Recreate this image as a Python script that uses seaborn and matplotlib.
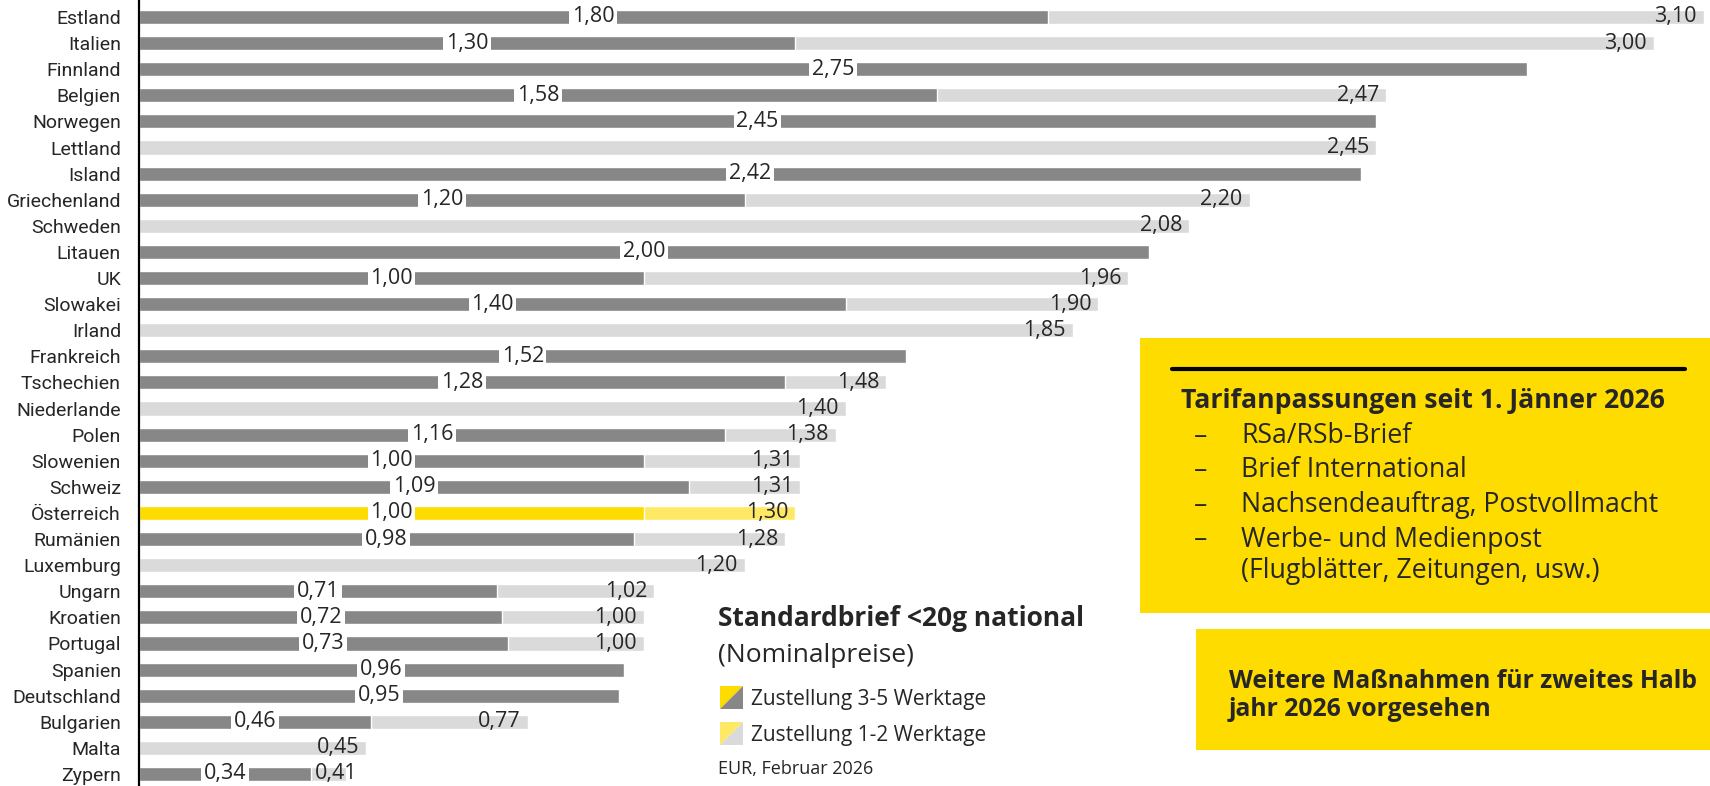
import numpy as np
import pandas as pd
import seaborn as sns
from matplotlib import pyplot as plt
from matplotlib.patches import Polygon, Rectangle
from matplotlib.lines import Line2D

W, H = 1710, 786

countries = ['Estland', 'Italien', 'Finnland', 'Belgien', 'Norwegen', 'Lettland', 'Island',
             'Griechenland', 'Schweden', 'Litauen', 'UK', 'Slowakei', 'Irland', 'Frankreich',
             'Tschechien', 'Niederlande', 'Polen', 'Slowenien', 'Schweiz', 'Österreich',
             'Rumänien', 'Luxemburg', 'Ungarn', 'Kroatien', 'Portugal', 'Spanien',
             'Deutschland', 'Bulgarien', 'Malta', 'Zypern']
# Zustellung 3-5 Werktage
price_3_5 = [1.80, 1.30, 2.75, 1.58, 2.45, None, 2.42, 1.20, None, 2.00, 1.00, 1.40, None, 1.52,
             1.28, None, 1.16, 1.00, 1.09, 1.00, 0.98, None, 0.71, 0.72, 0.73, 0.96, 0.95, 0.46,
             None, 0.34]
# Zustellung 1-2 Werktage
price_1_2 = [3.10, 3.00, None, 2.47, None, 2.45, None, 2.20, 2.08, None, 1.96, 1.90, 1.85, None,
             1.48, 1.40, 1.38, 1.31, 1.31, 1.30, 1.28, 1.20, 1.02, 1.00, 1.00, None, None, 0.77,
             0.45, 0.41]
highlight = 'Österreich'

DARK, LIGHT = '#878787', '#dadada'
YELLOW, YELLOW_LIGHT = '#ffdc00', '#ffe964'
TXT = ['Open Sans', 'DejaVu Sans']


def fmt(v):
    return f'{v:.2f}'.replace('.', ',')


def fig_xy(x, y):
    return x / W, 1 - y / H


df = pd.DataFrame({'land': countries, 'slow': price_3_5, 'fast': price_1_2})

sns.set_style('white')
plt.rcParams['font.family'] = ['Roboto', 'DejaVu Sans']

fig = plt.figure(figsize=(W / 100, H / 100), dpi=100)
ax = fig.add_axes([139 / W, 0, (1704 - 139) / W, 1])

pal_light = {c: (YELLOW_LIGHT if c == highlight else LIGHT) for c in countries}
pal_dark = {c: (YELLOW if c == highlight else DARK) for c in countries}

fast_df = df.dropna(subset=['fast'])
slow_df = df.dropna(subset=['slow'])
sns.barplot(data=fast_df, x='fast', y='land', hue='land', order=countries, palette=pal_light,
            width=0.54, legend=False, ax=ax, saturation=1)
sns.barplot(data=slow_df, x='slow', y='land', hue='land', order=countries, palette=pal_dark,
            width=0.54, legend=False, ax=ax, saturation=1)

ax.set_xlim(0, 3.10)
ax.set_ylim(29.46, -0.651)
ax.set_xlabel('')
ax.set_ylabel('')
ax.set_xticks([])
for side in ['top', 'right', 'bottom']:
    ax.spines[side].set_visible(False)
ax.spines['left'].set_color('black')
ax.spines['left'].set_linewidth(1.6)
ax.tick_params(axis='y', length=0, pad=13, labelsize=14)

# value labels: 3-5 days centred on its bar, 1-2 days at the end of its bar
px_per_eur = (1704 - 139) / 3.10
for i, row in df.iterrows():
    if pd.notna(row['slow']):
        ax.text(row['slow'] / 2, i, fmt(row['slow']), ha='center', va='center', fontsize=15.5,
                family=TXT, bbox=dict(boxstyle='square,pad=0.12', fc='white', ec='none'))
    if pd.notna(row['fast']):
        room = (row['fast'] - (row['slow'] if pd.notna(row['slow']) else 0)) * px_per_eur
        if room >= 60:
            ax.annotate(fmt(row['fast']), (row['fast'], i), xytext=(-5, 0),
                        textcoords='offset points', ha='right', va='center', fontsize=15.5,
                        family=TXT)
        else:
            ax.annotate(fmt(row['fast']), (row['slow'], i), xytext=(3, 0),
                        textcoords='offset points', ha='left', va='center', fontsize=15.5,
                        family=TXT)

# legend block
fig.text(*fig_xy(718, 619), 'Standardbrief <20g national', fontsize=19, fontweight='bold',
         va='center', family=TXT)
fig.text(*fig_xy(718, 656), '(Nominalpreise)', fontsize=19, va='center', family=TXT)
for y, c1, c2, label in [(698, YELLOW, DARK, 'Zustellung 3-5 Werktage'),
                         (734, YELLOW_LIGHT, LIGHT, 'Zustellung 1-2 Werktage')]:
    x0, x1, y0, y1 = 720, 743, y - 12, y + 11
    fig.add_artist(Polygon([fig_xy(x0, y0), fig_xy(x1, y0), fig_xy(x0, y1)], closed=True,
                           transform=fig.transFigure, fc=c1, ec='none'))
    fig.add_artist(Polygon([fig_xy(x1, y0), fig_xy(x1, y1), fig_xy(x0, y1)], closed=True,
                           transform=fig.transFigure, fc=c2, ec='none'))
    fig.text(*fig_xy(751, y + 1), label, fontsize=15, va='center', family=TXT)
fig.text(*fig_xy(718, 769), 'EUR, Februar 2026', fontsize=13, va='center', family=TXT)

# info boxes
bx, by = fig_xy(1140, 613)
fig.add_artist(Rectangle((bx, by), (W - 1140) / W, (613 - 338) / H, transform=fig.transFigure,
                         fc=YELLOW, ec='none'))
fig.add_artist(Line2D([1172 / W, 1685 / W], [1 - 369 / H] * 2, transform=fig.transFigure,
                      color='black', lw=3))
fig.text(*fig_xy(1181, 401), 'Tarifanpassungen seit 1. Jänner 2026', fontsize=19.2,
         fontweight='bold', va='center', family=TXT)
bullets = ['RSa/RSb-Brief', 'Brief International', 'Nachsendeauftrag, Postvollmacht',
           'Werbe- und Medienpost']
for k, b in enumerate(bullets):
    y = 436 + k * 34.5
    fig.text(*fig_xy(1194, y), '–', fontsize=19.2, va='center', family=TXT)
    fig.text(*fig_xy(1241, y), b, fontsize=19.2, va='center', family=TXT)
fig.text(*fig_xy(1241, 571), '(Flugblätter, Zeitungen, usw.)', fontsize=19.2, va='center',
         family=TXT)

bx, by = fig_xy(1196, 750)
fig.add_artist(Rectangle((bx, by), (W - 1196) / W, (750 - 629) / H, transform=fig.transFigure,
                         fc=YELLOW, ec='none'))
fig.text(*fig_xy(1229, 681), 'Weitere Maßnahmen für zweites Halb', fontsize=17.8,
         fontweight='bold', va='center', family=TXT)
fig.text(*fig_xy(1229, 710), 'jahr 2026 vorgesehen', fontsize=17.8, fontweight='bold',
         va='center', family=TXT)

fig.savefig('out.png', dpi=100)
